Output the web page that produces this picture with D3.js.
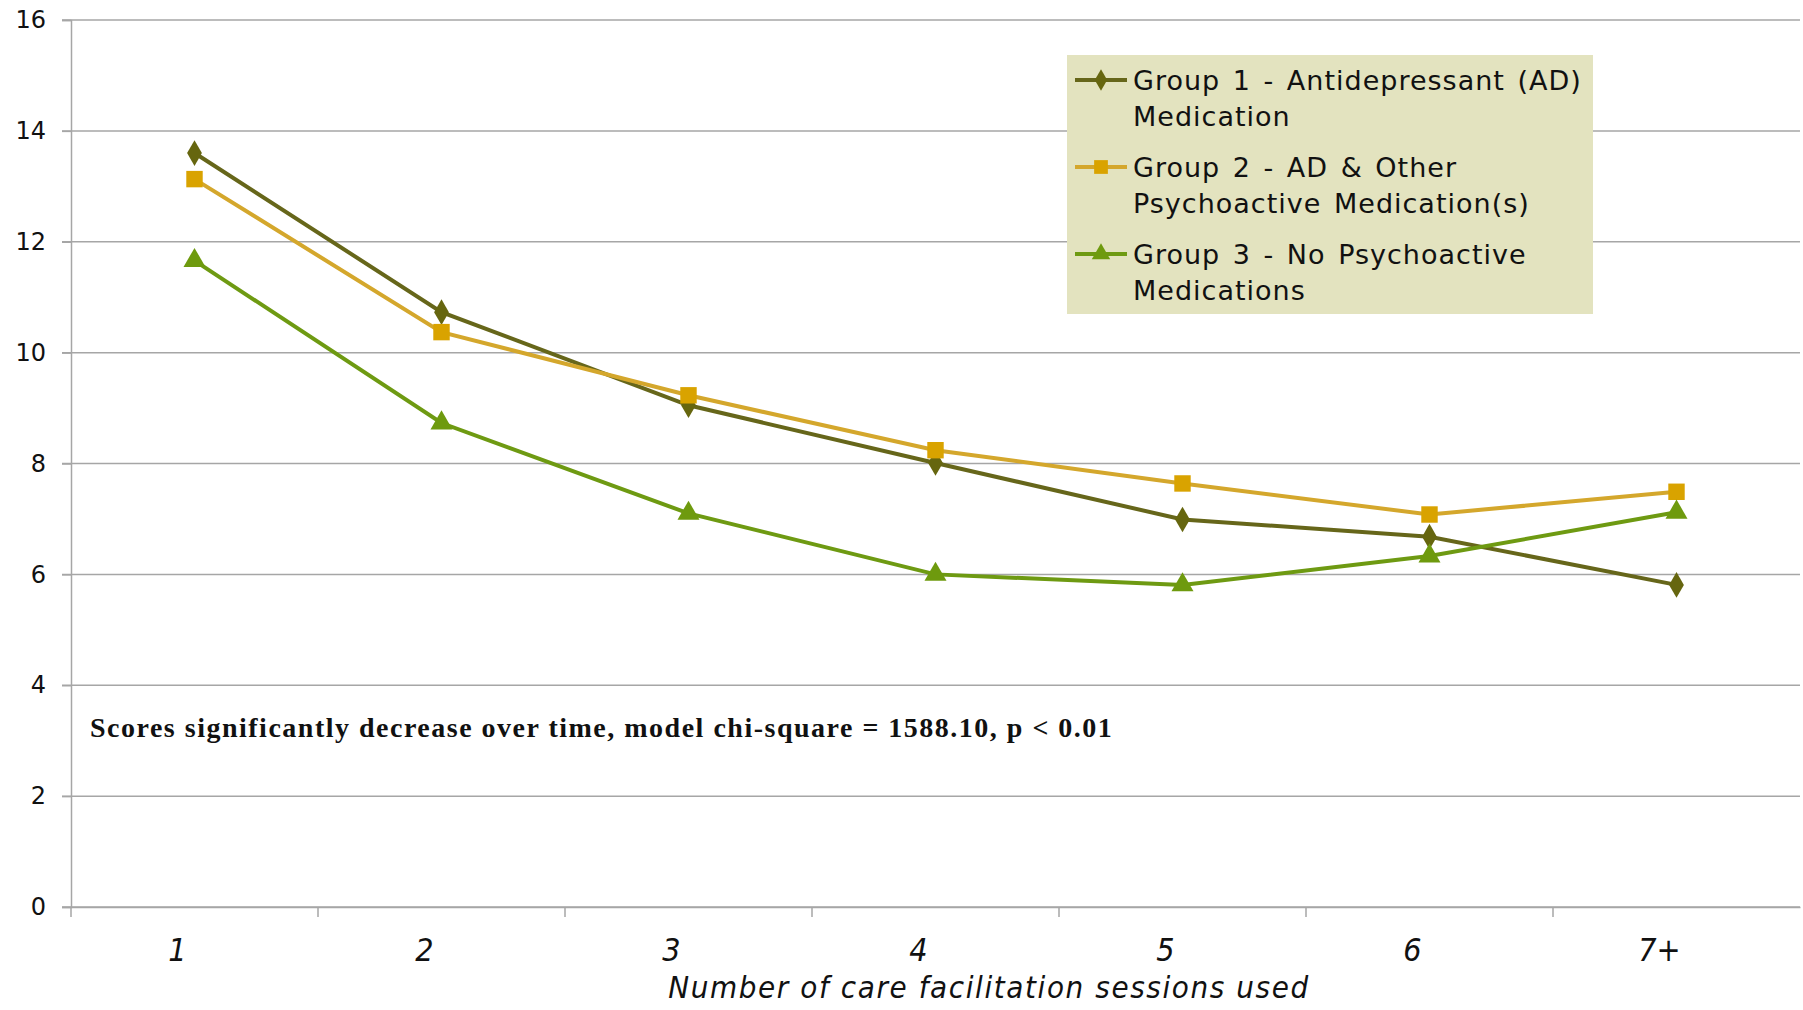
<!DOCTYPE html>
<html>
<head>
<meta charset="utf-8">
<script src="https://cdn.jsdelivr.net/npm/d3@7"></script>
<style>
body { margin: 0; background: #fff; }
svg { display: block; }
</style>
</head>
<body>
<div class="chart"></div>
<script>
var width = 1803;
var height = 1010;

var sessions = ["1", "2", "3", "4", "5", "6", "7+"];
var yTicks = [0, 2, 4, 6, 8, 10, 12, 14, 16];
var group1 = [13.6, 10.73, 9.05, 8.01, 6.99, 6.68, 5.81];
var group2 = [13.13, 10.37, 9.23, 8.24, 7.64, 7.08, 7.49];
var group3 = [11.66, 8.73, 7.10, 6.00, 5.81, 6.33, 7.12];
var groupNames = [
  ["Group 1 - Antidepressant (AD)", "Medication"],
  ["Group 2 - AD & Other", "Psychoactive Medication(s)"],
  ["Group 3 - No Psychoactive", "Medications"]
];
var note = "Scores significantly decrease over time, model chi-square = 1588.10, p < 0.01";
var xTitle = "Number of care facilitation sessions used";

var series = [
  { values: group1, line: "#66661a", fill: "#66660f", shape: d3.symbolDiamond, size: 190, names: groupNames[0] },
  { values: group2, line: "#d4a72c", fill: "#d9a300", shape: d3.symbolSquare, size: 270, names: groupNames[1] },
  { values: group3, line: "#6e9a12", fill: "#6e9a0e", shape: d3.symbolTriangle, size: 210, names: groupNames[2] }
];

var svg = d3.select(".chart").append("svg")
  .attr("width", width)
  .attr("height", height);

var x = d3.scaleBand()
  .domain(sessions)
  .range([71, 1800]);

var y = d3.scaleLinear()
  .domain([0, 16])
  .range([907, 20]);

// gridlines
svg.append("g")
  .selectAll("line")
  .data(yTicks)
  .enter().append("line")
  .attr("x1", 62)
  .attr("x2", 1800)
  .attr("y1", function(d) { return y(d); })
  .attr("y2", function(d) { return y(d); })
  .attr("stroke", "#a6a6a6")
  .attr("stroke-width", 1.5);

// y axis
var yAxis = svg.append("g")
  .attr("transform", "translate(71,0)")
  .call(d3.axisLeft(y).tickValues(yTicks).tickSize(9).tickPadding(16));
yAxis.selectAll("line").attr("stroke", "#a6a6a6").attr("stroke-width", 1.5);
yAxis.select(".domain").attr("stroke", "#a6a6a6").attr("stroke-width", 1.5);
yAxis.selectAll("text")
  .attr("font-family", "DejaVu Sans")
  .attr("font-size", "24px")
  .attr("fill", "#111");

// x axis
var xAxis = svg.append("g")
  .attr("transform", "translate(0,907)")
  .call(d3.axisBottom(x).tickSize(0).tickPadding(0));
xAxis.select(".domain").attr("stroke", "#a6a6a6").attr("stroke-width", 1.5);
xAxis.selectAll("text")
  .attr("dx", -17)
  .attr("y", 54)
  .attr("dy", 0)
  .attr("font-family", "DejaVu Sans Condensed, DejaVu Sans")
  .attr("font-style", "italic")
  .attr("font-size", "32px")
  .attr("fill", "#111");

svg.append("g")
  .selectAll("line")
  .data(sessions)
  .enter().append("line")
  .attr("x1", function(d) { return x(d); })
  .attr("x2", function(d) { return x(d); })
  .attr("y1", 907)
  .attr("y2", 917)
  .attr("stroke", "#a6a6a6")
  .attr("stroke-width", 1.5);

svg.append("text")
  .attr("x", 989)
  .attr("y", 998)
  .attr("text-anchor", "middle")
  .attr("font-family", "DejaVu Sans Condensed, DejaVu Sans")
  .attr("font-style", "italic")
  .attr("font-size", "31px")
  .attr("letter-spacing", "1.6px")
  .attr("fill", "#111")
  .text(xTitle);

// lines and markers
var line = d3.line()
  .x(function(d, i) { return x(sessions[i]) + x.bandwidth() / 2; })
  .y(function(d) { return y(d); });

series.forEach(function(s) {
  svg.append("path")
    .datum(s.values)
    .attr("fill", "none")
    .attr("stroke", s.line)
    .attr("stroke-width", 4)
    .attr("d", line);
});

series.forEach(function(s) {
  svg.append("g")
    .selectAll("path")
    .data(s.values)
    .enter().append("path")
    .attr("transform", function(d, i) {
      return "translate(" + (x(sessions[i]) + x.bandwidth() / 2) + "," + y(d) + ")";
    })
    .attr("d", d3.symbol().type(s.shape).size(s.size))
    .attr("fill", s.fill);
});

// annotation
svg.append("text")
  .attr("x", 90)
  .attr("y", 737)
  .attr("font-family", "Liberation Serif")
  .attr("font-weight", "bold")
  .attr("font-size", "28px")
  .attr("letter-spacing", "1.5px")
  .attr("fill", "#111")
  .text(note);

// legend
var legend = svg.append("g").attr("class", "legend");
legend.append("rect")
  .attr("x", 1067)
  .attr("y", 55)
  .attr("width", 526)
  .attr("height", 259)
  .attr("fill", "#e3e3bf");

series.forEach(function(s, i) {
  var ly = 80 + i * 87;
  legend.append("line")
    .attr("x1", 1075)
    .attr("x2", 1127)
    .attr("y1", ly)
    .attr("y2", ly)
    .attr("stroke", s.line)
    .attr("stroke-width", 4);
  legend.append("path")
    .attr("transform", "translate(1101," + ly + ")")
    .attr("d", d3.symbol().type(s.shape).size(s.size * 0.7))
    .attr("fill", s.fill);
  legend.selectAll(null)
    .data(s.names)
    .enter().append("text")
    .attr("x", 1133)
    .attr("y", function(d, j) { return ly + 10 + j * 36; })
    .attr("font-family", "DejaVu Sans")
    .attr("font-size", "27px")
    .attr("letter-spacing", "1px")
    .attr("word-spacing", "3px")
    .attr("fill", "#111")
    .text(function(d) { return d; });
});
</script>
</body>
</html>
